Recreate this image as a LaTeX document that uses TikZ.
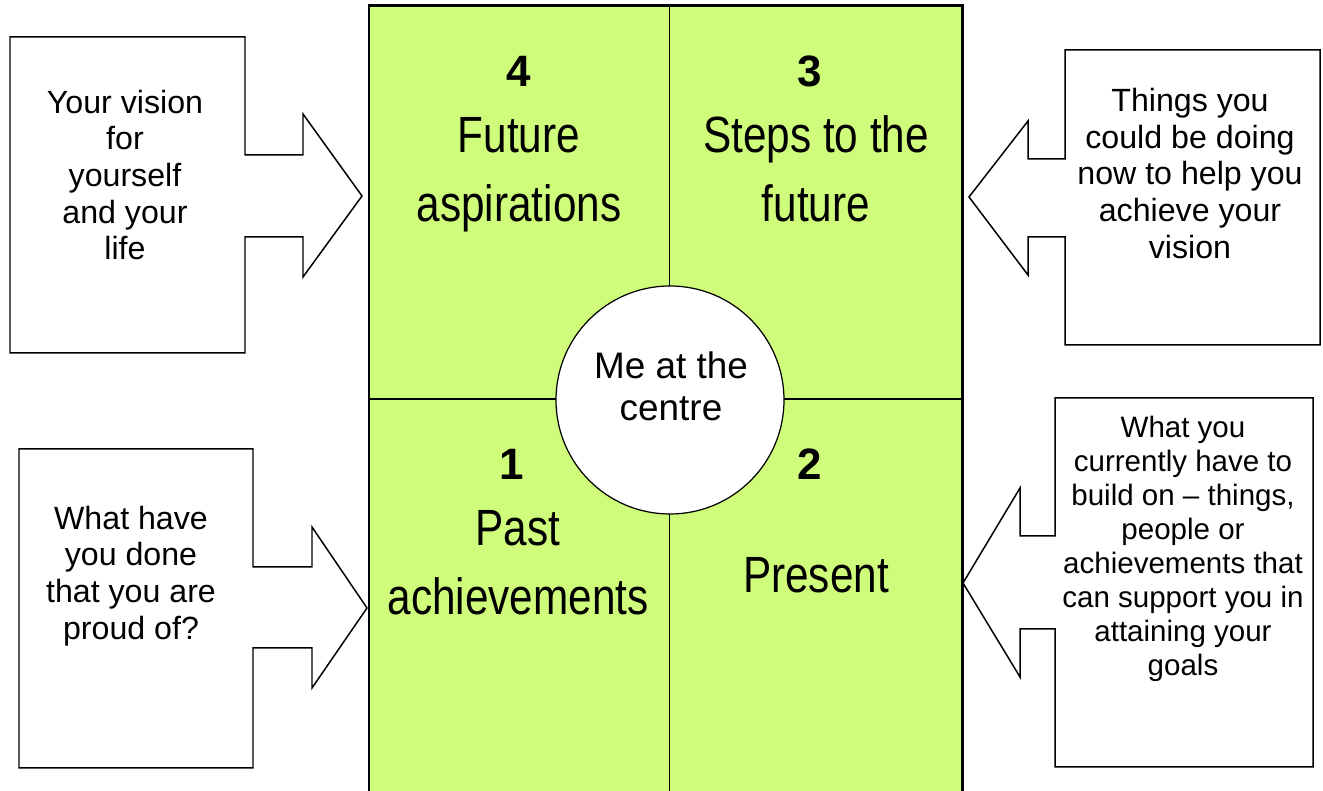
\documentclass[tikz,border=0pt]{standalone}
\usepackage{fontspec}
\setmainfont{Liberation Sans}
\newfontfamily\narrowfont[FakeStretch=0.83]{Liberation Sans}
\definecolor{boardgreen}{HTML}{CFFC7A}

\tikzset{
    callout/.style={draw, line width=0.85pt, fill=white, line join=miter},
    note/.style={align=center, inner sep=0pt, font=\fontsize{18.3}{20.9}\selectfont},
    title/.style={align=center, inner sep=0pt, anchor=base, font=\narrowfont\fontsize{29}{39.7}\selectfont},
    number/.style={inner sep=0pt, anchor=base, font=\bfseries\fontsize{25}{30}\selectfont},
}

\begin{document}
\begin{tikzpicture}
    \useasboundingbox (0,0) rectangle (26.46,15.82);

    % the board with its four quarters
    \fill[boardgreen] (7.38,-0.5) rectangle (19.24,15.70);
    \draw[line width=0.8pt] (13.39,-0.5) -- (13.39,15.70);
    \draw[line width=0.8pt] (7.38,7.84) -- (19.24,7.84);
    \draw[line width=1.7pt] (7.38,-0.5) -- (7.38,15.70) -- (19.24,15.70) -- (19.24,-0.5);

    \node[circle, draw, fill=white, line width=0.7pt, minimum size=4.56cm] (me) at (13.40,7.82) {};
    \node[align=center, inner sep=0pt, font=\fontsize{21}{23.8}\selectfont] (metext) at ([shift={(0.02,0.28)}]me.center) {Me at the\\centre};

    % titles sit on the baseline of their last line
    \node[number] (n4) at (10.38,14.08) {4};
    \node[title] (future) at (10.38,11.38) {Future\\aspirations};
    \node[number] (n3) at (16.20,14.08) {3};
    \node[title] (steps) at (16.32,11.38) {Steps to the\\future};
    \node[number] (n1) at (10.24,6.22) {1};
    \node[title] (past) at (10.36,3.52) {Past\\achievements};
    \node[number] (n2) at (16.20,6.22) {2};
    \node[title] (present) at (16.32,3.96) {Present};

    % top left
    \draw[callout] (0.20,15.08) -- (4.90,15.08) -- (4.90,12.72) -- (6.06,12.72) -- (6.06,13.54)
        -- (7.24,11.90) -- (6.06,10.28) -- (6.06,11.08) -- (4.90,11.08) -- (4.90,8.76)
        -- (0.20,8.76) -- cycle;
    \node[note] (vision) at (2.50,12.32) {Your vision\\for\\yourself\\and your\\life};

    % top right
    \draw[callout] (26.40,14.82) -- (21.30,14.82) -- (21.30,12.64) -- (20.56,12.64) -- (20.56,13.40)
        -- (19.38,11.88) -- (20.56,10.32) -- (20.56,11.08) -- (21.30,11.08) -- (21.30,8.92)
        -- (26.40,8.92) -- cycle;
    \node[note] (doing) at (23.80,12.35) {Things you\\could be doing\\now to help you\\achieve your\\vision};

    % bottom left
    \draw[callout] (0.38,6.84) -- (5.06,6.84) -- (5.06,4.48) -- (6.24,4.48) -- (6.24,5.28)
        -- (7.34,3.66) -- (6.24,2.06) -- (6.24,2.86) -- (5.06,2.86) -- (5.06,0.46)
        -- (0.38,0.46) -- cycle;
    \node[note] (proud) at (2.62,4.30) {What have\\you done\\that you are\\proud of?};

    % bottom right
    \draw[callout] (26.26,7.86) -- (21.10,7.86) -- (21.10,5.10) -- (20.40,5.10) -- (20.40,6.06)
        -- (19.26,4.16) -- (20.40,2.28) -- (20.40,3.24) -- (21.10,3.24) -- (21.10,0.48)
        -- (26.26,0.48) -- cycle;
    \node[note, font=\fontsize{16.8}{19.3}\selectfont] (support) at (23.66,4.84)
        {What you\\currently have to\\build on – things,\\people or\\achievements that\\can support you in\\attaining your\\goals};
\end{tikzpicture}
\end{document}
